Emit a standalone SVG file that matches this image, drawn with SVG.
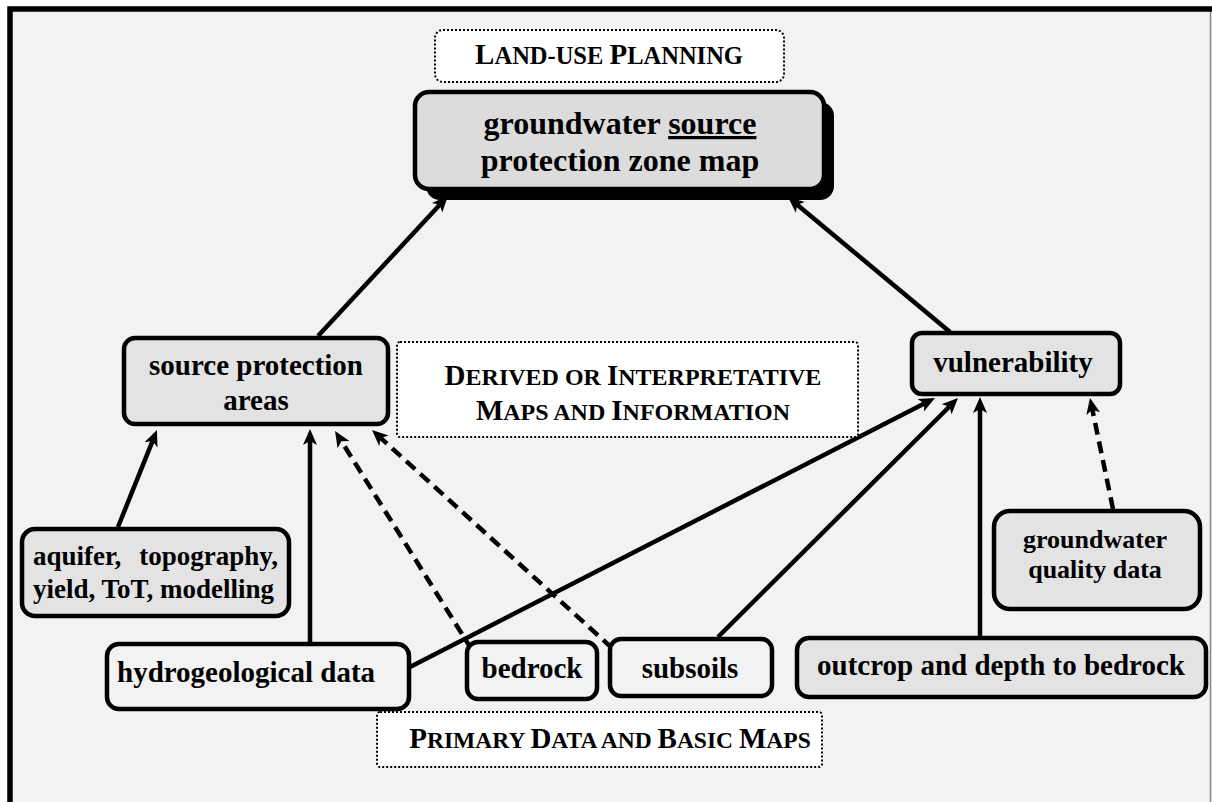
<svg xmlns="http://www.w3.org/2000/svg" width="1212" height="802" viewBox="0 0 1212 802">
<style>
  .t { font-family: "Liberation Serif", "Times New Roman", serif; font-weight: bold; fill: #000; }
  .box { stroke: #000; stroke-width: 4.5; }
  .gray { fill: #e3e3e3; }
  .plain { fill: #f2f2f2; }
  .dot { fill: #fff; stroke: #000; stroke-width: 2; stroke-dasharray: 2 2; }
  .c { fill: none; stroke: #000; stroke-width: 4.5; marker-end: url(#ah); }
  .d { stroke-dasharray: 12 7; }
</style>
<defs>
  <marker id="ah" markerUnits="userSpaceOnUse" markerWidth="17" markerHeight="15" refX="4" refY="7" orient="auto" overflow="visible">
    <path d="M0,0 L16,7 L0,14 L4,7 z" fill="#000"/>
  </marker>
</defs>
<rect x="0" y="0" width="1212" height="802" fill="#fff"/>
<rect x="10" y="9" width="1210" height="820" fill="#f2f2f2" stroke="#000" stroke-width="5.5"/>
<line x1="1210.5" y1="12" x2="1210.5" y2="802" stroke="#888" stroke-width="1.5"/>

<g id="connectors">
  <path class="c" d="M318,336 L439.8,204.8"/>
  <path class="c" d="M950,332 L797.2,204.7"/>
  <path class="c" d="M118,527 L152.5,441.1"/>
  <path class="c" d="M310,642 L310,441"/>
  <path class="c d" d="M472,650 L341.4,441.2"/>
  <path class="c d" d="M612,648 L380.9,438.1"/>
  <path class="c" d="M410,667 L924.3,403.5"/>
  <path class="c" d="M718,637 L949.5,406.5"/>
  <path class="c" d="M980,638 L980,409"/>
  <path class="c d" d="M1113,509 L1092.4,409.7"/>
</g>

<g id="land-use-planning">
  <rect class="dot" x="435" y="30" width="349" height="52" rx="8"/>
  <text class="t" x="609" y="64" text-anchor="middle"><tspan font-size="29">L</tspan><tspan font-size="24.5">AND-USE </tspan><tspan font-size="29">P</tspan><tspan font-size="24.5">LANNING</tspan></text>
</g>

<g id="gsp-zone-map">
  <rect x="426" y="102" width="408" height="98" rx="14" fill="#000"/>
  <rect class="box" x="415" y="92" width="409" height="97" rx="14" fill="#dcdcdc"/>
  <text class="t" font-size="32" x="620" y="134" text-anchor="middle">groundwater <tspan text-decoration="underline">source</tspan></text>
  <text class="t" font-size="32" x="620" y="171" text-anchor="middle">protection zone map</text>
</g>

<g id="source-protection-areas">
  <rect class="box gray" x="124" y="338" width="264" height="86" rx="11"/>
  <text class="t" font-size="29" x="256" y="375" text-anchor="middle">source protection</text>
  <text class="t" font-size="29" x="256" y="410" text-anchor="middle">areas</text>
</g>

<g id="derived-label">
  <rect class="dot" x="397" y="342" width="461" height="95" rx="3"/>
  <text class="t" x="633" y="385" text-anchor="middle"><tspan font-size="29">D</tspan><tspan font-size="24">ERIVED OR </tspan><tspan font-size="29">I</tspan><tspan font-size="24">NTERPRETATIVE</tspan></text>
  <text class="t" x="633" y="420" text-anchor="middle"><tspan font-size="29">M</tspan><tspan font-size="24">APS AND </tspan><tspan font-size="29">I</tspan><tspan font-size="24">NFORMATION</tspan></text>
</g>

<g id="vulnerability">
  <rect class="box gray" x="912" y="333" width="208" height="61" rx="10"/>
  <text class="t" font-size="29" x="1013" y="372" text-anchor="middle">vulnerability</text>
</g>

<g id="aquifer">
  <rect class="box gray" x="22" y="529" width="267" height="87" rx="13"/>
  <text class="t" font-size="27" y="565"><tspan x="33">aquifer,</tspan><tspan x="278" text-anchor="end">topography,</tspan></text>
  <text class="t" font-size="27" x="33" y="598">yield, ToT, modelling</text>
</g>

<g id="hydrogeological-data">
  <rect class="box plain" x="107" y="644" width="302" height="65" rx="12"/>
  <text class="t" font-size="29" x="117" y="682">hydrogeological data</text>
</g>

<g id="bedrock">
  <rect class="box plain" x="467" y="642" width="130" height="57" rx="11"/>
  <text class="t" font-size="29" x="532" y="678" text-anchor="middle">bedrock</text>
</g>

<g id="subsoils">
  <rect class="box plain" x="610" y="639" width="162" height="57" rx="11"/>
  <text class="t" font-size="29" x="690" y="678" text-anchor="middle">subsoils</text>
</g>

<g id="primary-label">
  <rect class="dot" x="377" y="712" width="445" height="55" rx="3"/>
  <text class="t" x="610" y="748" text-anchor="middle"><tspan font-size="29">P</tspan><tspan font-size="23.5">RIMARY </tspan><tspan font-size="29">D</tspan><tspan font-size="23.5">ATA AND </tspan><tspan font-size="29">B</tspan><tspan font-size="23.5">ASIC </tspan><tspan font-size="29">M</tspan><tspan font-size="23.5">APS</tspan></text>
</g>

<g id="outcrop">
  <rect class="box gray" x="797" y="638" width="409" height="59" rx="12"/>
  <text class="t" font-size="29" x="1001" y="675" text-anchor="middle">outcrop and depth to bedrock</text>
</g>

<g id="gw-quality">
  <rect class="box gray" x="994" y="511" width="206" height="98" rx="16"/>
  <text class="t" font-size="26" x="1095" y="548" text-anchor="middle">groundwater</text>
  <text class="t" font-size="26" x="1095" y="578" text-anchor="middle">quality data</text>
</g>
</svg>
